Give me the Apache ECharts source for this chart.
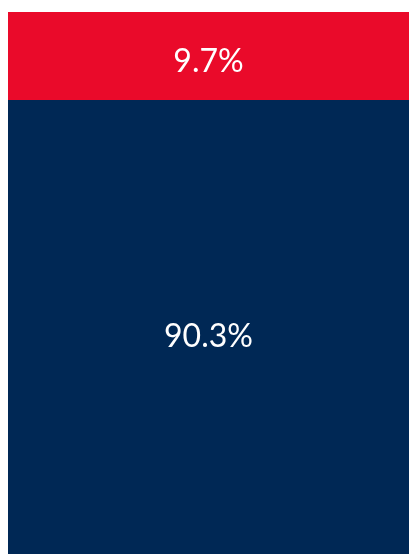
<!DOCTYPE html>
<html>
<head>
<meta charset="utf-8">
<style>
  html, body { margin: 0; padding: 0; background: #fff; }
  #chart { width: 409px; height: 554px; }
</style>
<script src="https://cdn.jsdelivr.net/npm/echarts@6/dist/echarts.min.js"></script>
</head>
<body>
<div id="chart"></div>
<script>
// 数据
var categories = ['share'];
var topValues = [9.7];
var bottomValues = [90.3];
var axisMax = 59.7;

var myChart = echarts.init(document.getElementById('chart'));

var labelStyle = {
    show: true,
    position: 'inside',
    color: '#ffffff',
    fontFamily: 'Lato',
    fontSize: 32,
    formatter: function (p) { return p.value + '%'; }
};

var option = {
    animation: false,
    grid: { top: 12, left: 8, right: 0, bottom: 0 },
    xAxis: {
        type: 'category',
        data: categories,
        show: false
    },
    yAxis: {
        type: 'value',
        inverse: true,
        min: 0,
        max: axisMax,
        show: false
    },
    series: [{
        name: 'top',
        type: 'bar',
        stack: 'total',
        barWidth: '100%',
        clip: true,
        itemStyle: { color: '#ea0a2a' },
        label: Object.assign({}, labelStyle, { offset: [0, 6] }),
        data: topValues
    }, {
        name: 'bottom',
        type: 'bar',
        stack: 'total',
        barWidth: '100%',
        clip: true,
        itemStyle: { color: '#002855' },
        label: Object.assign({}, labelStyle, { offset: [0, 10] }),
        data: bottomValues
    }]
};

myChart.setOption(option);
</script>
</body>
</html>
